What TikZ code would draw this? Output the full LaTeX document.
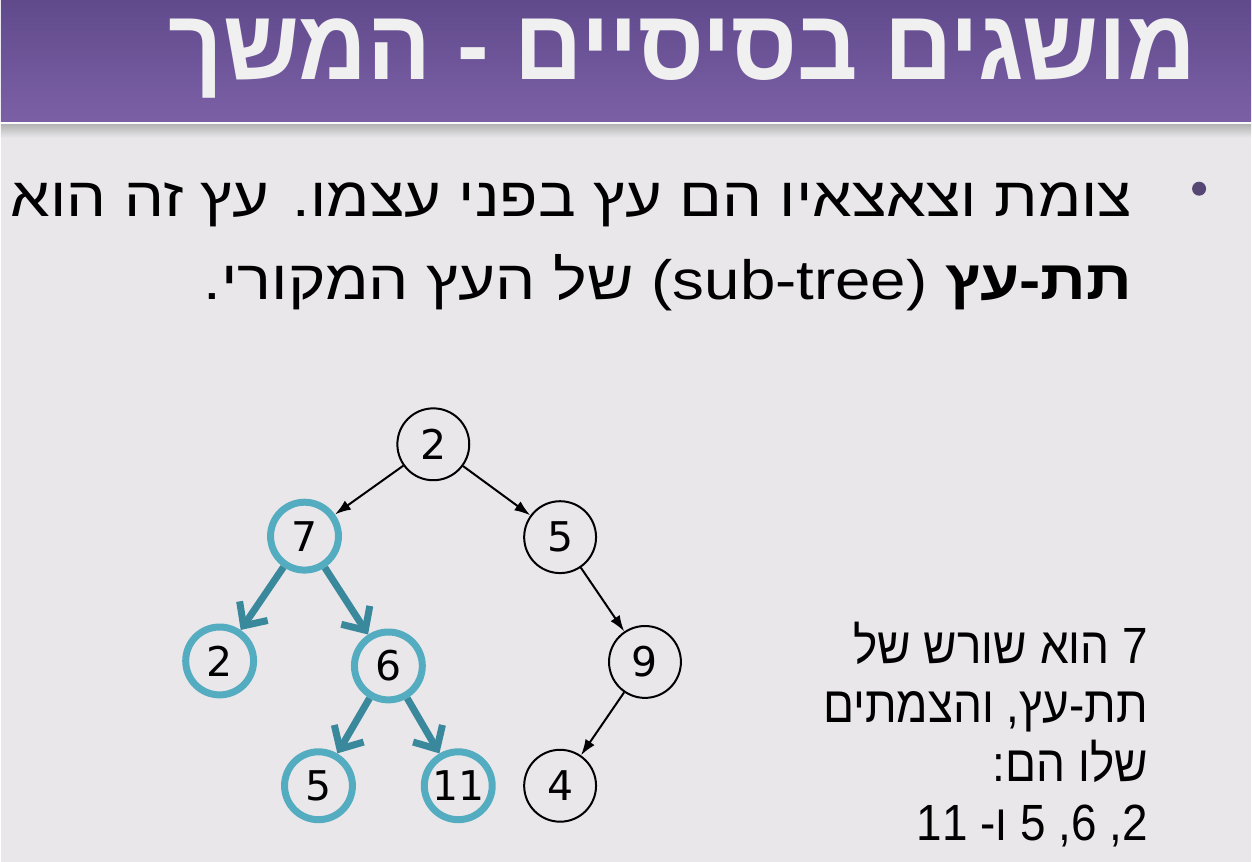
\documentclass[tikz,border=0pt]{standalone}
\usepackage{fontspec}
\setmainfont{Liberation Sans}
\newfontfamily\hebfont[Script=Hebrew]{Liberation Sans}
\newfontfamily\numfont{DejaVu Sans}
\usetikzlibrary{arrows.meta,positioning}
\TeXXeTstate=1
\definecolor{slidebg}{RGB}{233,231,234}
\definecolor{titletop}{RGB}{96,74,140}
\definecolor{titlebot}{RGB}{124,96,166}
\definecolor{subcircle}{RGB}{84,172,192}
\definecolor{subarrow}{RGB}{58,136,156}
\definecolor{bulletcol}{RGB}{85,70,115}
% squeeze or stretch a line to a given width (in pt)
\newlength\fitwd
\newcommand\fitline[2]{\settowidth\fitwd{#2}\pgfmathsetmacro\fitscale{#1/\fitwd}\scalebox{\fitscale}[1]{#2}}

\begin{document}
\begin{tikzpicture}[x=1pt,y=-1pt,
    treenode/.style={circle,draw=black,line width=2pt,minimum size=72pt,inner sep=0pt,font=\numfont\fontsize{41}{42}\selectfont},
    subnode/.style={treenode,draw=subcircle,line width=7pt,minimum size=68pt},
    treeedge/.style={-{Latex[length=16pt,width=11pt]},line width=2pt},
    subedge/.style={-{Straight Barb[length=18pt,width=34pt]},line width=7pt,draw=subarrow}]
  % slide background and title bar
  \fill[slidebg] (0,0) rectangle (1252,863);
  \shade[top color=titletop,bottom color=titlebot] (0,0) rectangle (1252,122);
  \shade[top color=black!30,bottom color=slidebg] (0,124) rectangle (1252,138);
  \draw[white!85!slidebg,line width=2pt] (0,123) -- (1252,123);
  \node[anchor=base east,inner sep=0pt,text=white!94!black,font=\hebfont\bfseries\fontsize{100}{100}\selectfont] (title) at (1197,80)
    {\fitline{1029}{\beginR מושגים בסיסיים - המשך\endR}};

  % bullet text
  \node[circle,fill=bulletcol,inner sep=0pt,minimum size=14pt] (bullet) at (1200,189) {};
  \node[anchor=base east,inner sep=0pt,font=\hebfont\fontsize{55.5}{60}\selectfont] (line1) at (1133,217)
    {\fitline{1123}{\beginR צומת וצאצאיו הם עץ בפני עצמו. עץ זה הוא\endR}};
  \node[anchor=base east,inner sep=0pt,font=\hebfont\fontsize{55.5}{60}\selectfont] (line2) at (1133,300)
    {\fitline{930}{\beginR\textbf{תת-עץ} \beginL(sub-tree)\endL{} של העץ המקורי.\endR}};

  % the tree
  \node[treenode] (root) at (433,445) {2};
  \node[subnode] (seven) at (304,537) {7};
  \node[treenode] (five) at (560,538) {5};
  \node[subnode] (twoleft) at (219,662) {2};
  \node[subnode] (six) at (388,667) {6};
  \node[treenode] (nine) at (645,663) {9};
  \node[subnode] (fivelow) at (318,787) {5};
  \node[subnode] (eleven) at (458,787) {11};
  \node[treenode] (four) at (560,787) {4};

  \draw[treeedge] (root) -- (seven);
  \draw[treeedge] (root) -- (five);
  \draw[treeedge] (five) -- (nine);
  \draw[treeedge] (nine) -- (four);
  \draw[subedge] (seven) -- (twoleft);
  \draw[subedge] (seven) -- (six);
  \draw[subedge] (six) -- (fivelow);
  \draw[subedge] (six) -- (eleven);

  % note on the right
  \node[anchor=north east,align=right,inner sep=0pt,font=\hebfont\fontsize{51}{59}\selectfont] (note) at (1149,623)
    {\scalebox{0.9}[1]{\beginR 7 הוא שורש של\endR}\\
     \scalebox{0.9}[1]{\beginR תת-עץ, והצמתים\endR}\\
     \scalebox{0.9}[1]{\beginR שלו הם:\endR}\\
     \scalebox{0.9}[1]{\beginR 2, 6, 5 ו- 11\endR}};
\end{tikzpicture}
\end{document}
